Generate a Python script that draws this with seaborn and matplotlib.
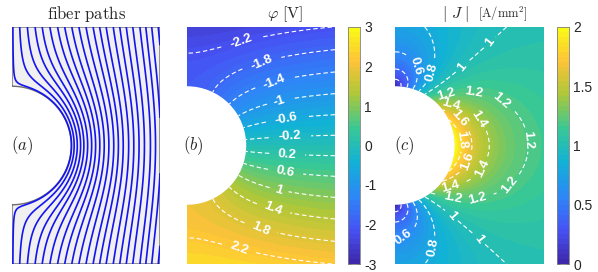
import numpy as np
import matplotlib
matplotlib.use('Agg')
import matplotlib.pyplot as plt
from matplotlib.patches import Polygon, Circle
import seaborn as sns

# Geometria: placa de 2.5 x 4 con agujero semicircular de radio 1 en el borde izquierdo
plate_w = 2.5
plate_h = 4.0
hole_r = 1.0

# Posiciones de las fibras en el borde superior
fiber_top_x = [0.015, 0.13, 0.26, 0.39, 0.51, 0.64, 0.77, 0.89, 1.01, 1.13, 1.25,
               1.37, 1.48, 1.59, 1.71, 1.82, 1.93, 2.04, 2.16, 2.26, 2.36, 2.47]

# Niveles de contorno y escalas de color
phi_levels = [-2.2, -1.8, -1.4, -1, -0.6, -0.2, 0.2, 0.6, 1, 1.4, 1.8, 2.2]
phi_ticks = [-3, -2, -1, 0, 1, 2, 3]
j_levels = [0.2, 0.4, 0.6, 0.8, 1.0, 1.2, 1.4, 1.6, 1.8]
j_ticks = [0, 0.5, 1, 1.5, 2]

# Donde van las etiquetas de los contornos (aprox. como en la figura)
phi_label_pos = [(0.93, 1.72), (1.27, 1.38), (1.49, 1.06), (1.57, 0.73), (1.69, 0.42),
                 (1.74, 0.14), (1.69, -0.17), (1.66, -0.46), (1.54, -0.78),
                 (1.45, -1.08), (1.23, -1.42), (0.86, -1.77)]
j_label_pos = [(1.59, 1.74), (1.12, 1.33), (0.87, 0.83), (1.31, 0.86), (1.76, 0.74),
               (2.21, 0.10), (0.92, 0.64), (1.31, 0.41), (1.04, 0.44), (1.09, 0.10),
               (1.21, -0.27), (1.43, -0.37), (0.92, -0.66), (0.97, -0.88),
               (1.38, -0.91), (1.98, -0.69), (0.92, -1.20), (1.39, -1.59),
               (0.13, -1.54), (0.59, -1.72), (0.23, 1.32), (0.55, 1.25)]

# Colores tipo parula
parula_colors = ['#3e26a8', '#4752f4', '#2d87f7', '#12b1d6',
                 '#37c897', '#abc739', '#fec338', '#f9fb15']

sns.set_style('white')
plt.rcParams['font.family'] = ['Liberation Sans', 'DejaVu Sans']
plt.rcParams['mathtext.fontset'] = 'cm'
parula = sns.blend_palette(parula_colors, n_colors=256, as_cmap=True)

#--------------------------------------------------------------------------------------------
# Campo: flujo potencial alrededor del agujero
x = np.linspace(0, plate_w, 501)
y = np.linspace(-plate_h / 2, plate_h / 2, 801)
X, Y = np.meshgrid(x, y)
R2 = np.maximum(X**2 + Y**2, 1e-6)
Z = X + 1j * Y
inside = R2 < hole_r**2

phi = np.ma.masked_where(inside, -Y * (1 + hole_r**2 / R2))
psi = X * (1 - hole_r**2 / R2)
jmag = np.ma.masked_where(inside, np.abs(1 + hole_r**2 / Z**2))

fx = np.array(fiber_top_x)
fiber_levels = fx * (1 - hole_r**2 / (fx**2 + (plate_h / 2)**2))

#--------------------------------------------------------------------------------------------
W, H = 598, 272
fig = plt.figure(figsize=(W / 100, H / 100), dpi=100)


def px_ax(x0, x1, y0, y1):
    return fig.add_axes([x0 / W, 1 - y1 / H, (x1 - x0) / W, (y1 - y0) / H])


def setup(ax):
    ax.set_xlim(0, plate_w)
    ax.set_ylim(-plate_h / 2, plate_h / 2)
    ax.axis('off')


ax_a = px_ax(12, 160, 27, 264)
ax_b = px_ax(187, 335, 27, 264)
cax_b = px_ax(348, 360, 27, 264)
ax_c = px_ax(395, 544, 27, 264)
cax_c = px_ax(557, 569, 27, 264)

# (a) fiber paths
t = np.linspace(-np.pi / 2, np.pi / 2, 200)
outline = [(0, plate_h / 2), (plate_w, plate_h / 2), (plate_w, -plate_h / 2), (0, -plate_h / 2)]
outline += list(zip(hole_r * np.cos(t), hole_r * np.sin(t)))
ax_a.add_patch(Polygon(outline, closed=True, fc='#f0f0f0', ec='#6e6e6e', lw=1.0, zorder=0))
ax_a.contour(X, Y, psi, levels=fiber_levels, colors='#1414f0', linewidths=1.2)
setup(ax_a)


def field_panel(ax, cax, data, vmin, vmax, levels, ticks, label_pos):
    eps = 1e-3 * (vmax - vmin)
    filled = np.ma.clip(data, vmin + eps, vmax - eps)
    cf = ax.contourf(X, Y, filled, levels=np.linspace(vmin, vmax, 49), cmap=parula,
                     vmin=vmin, vmax=vmax)
    ax.add_patch(Circle((0, 0), hole_r, fc='white', ec='none', zorder=1.5))
    cs = ax.contour(X, Y, data, levels=levels, colors='white', linewidths=0.8)
    cs.set_linestyle((0, (4, 2.5)))
    labels = ax.clabel(cs, fmt='%g', fontsize=9.5, colors='white', inline=True,
                       inline_spacing=3, manual=label_pos)
    for lb in labels:
        lb.set_fontweight('bold')
    setup(ax)
    cb = fig.colorbar(cf, cax=cax, ticks=ticks)
    cb.ax.set_ylim(vmin, vmax)
    cb.outline.set_edgecolor('#808080')
    cb.outline.set_linewidth(0.6)
    cax.tick_params(direction='in', length=2.5, width=0.5, labelsize=10, pad=3,
                    left=True, right=True, colors='#262626')
    cax.set_yticklabels(['%g' % v for v in ticks])


field_panel(ax_b, cax_b, phi, -3, 3, phi_levels, phi_ticks, phi_label_pos)
field_panel(ax_c, cax_c, jmag, 0, 2, j_levels, j_ticks, j_label_pos)

# Titulos y etiquetas de panel
fig.text(87 / W, 1 - 14 / H, r'$\mathrm{fiber\ paths}$', ha='center', va='center', fontsize=12)
fig.text(285 / W, 1 - 14 / H, r'$\varphi\ [\mathrm{V}]$', ha='center', va='center', fontsize=11.5)
fig.text(456 / W, 1 - 14 / H, r'$|\ J\ |$', ha='center', va='center', fontsize=11.5)
fig.text(503 / W, 1 - 14 / H, r'$[\mathrm{A/mm^2}]$', ha='center', va='center', fontsize=9)
for xp, lab in [(22, 'a'), (193, 'b'), (404, 'c')]:
    fig.text(xp / W, 1 - 146 / H, r'$(%s)$' % lab, ha='center', va='center', fontsize=12)

plt.savefig('out.png', dpi=100)
